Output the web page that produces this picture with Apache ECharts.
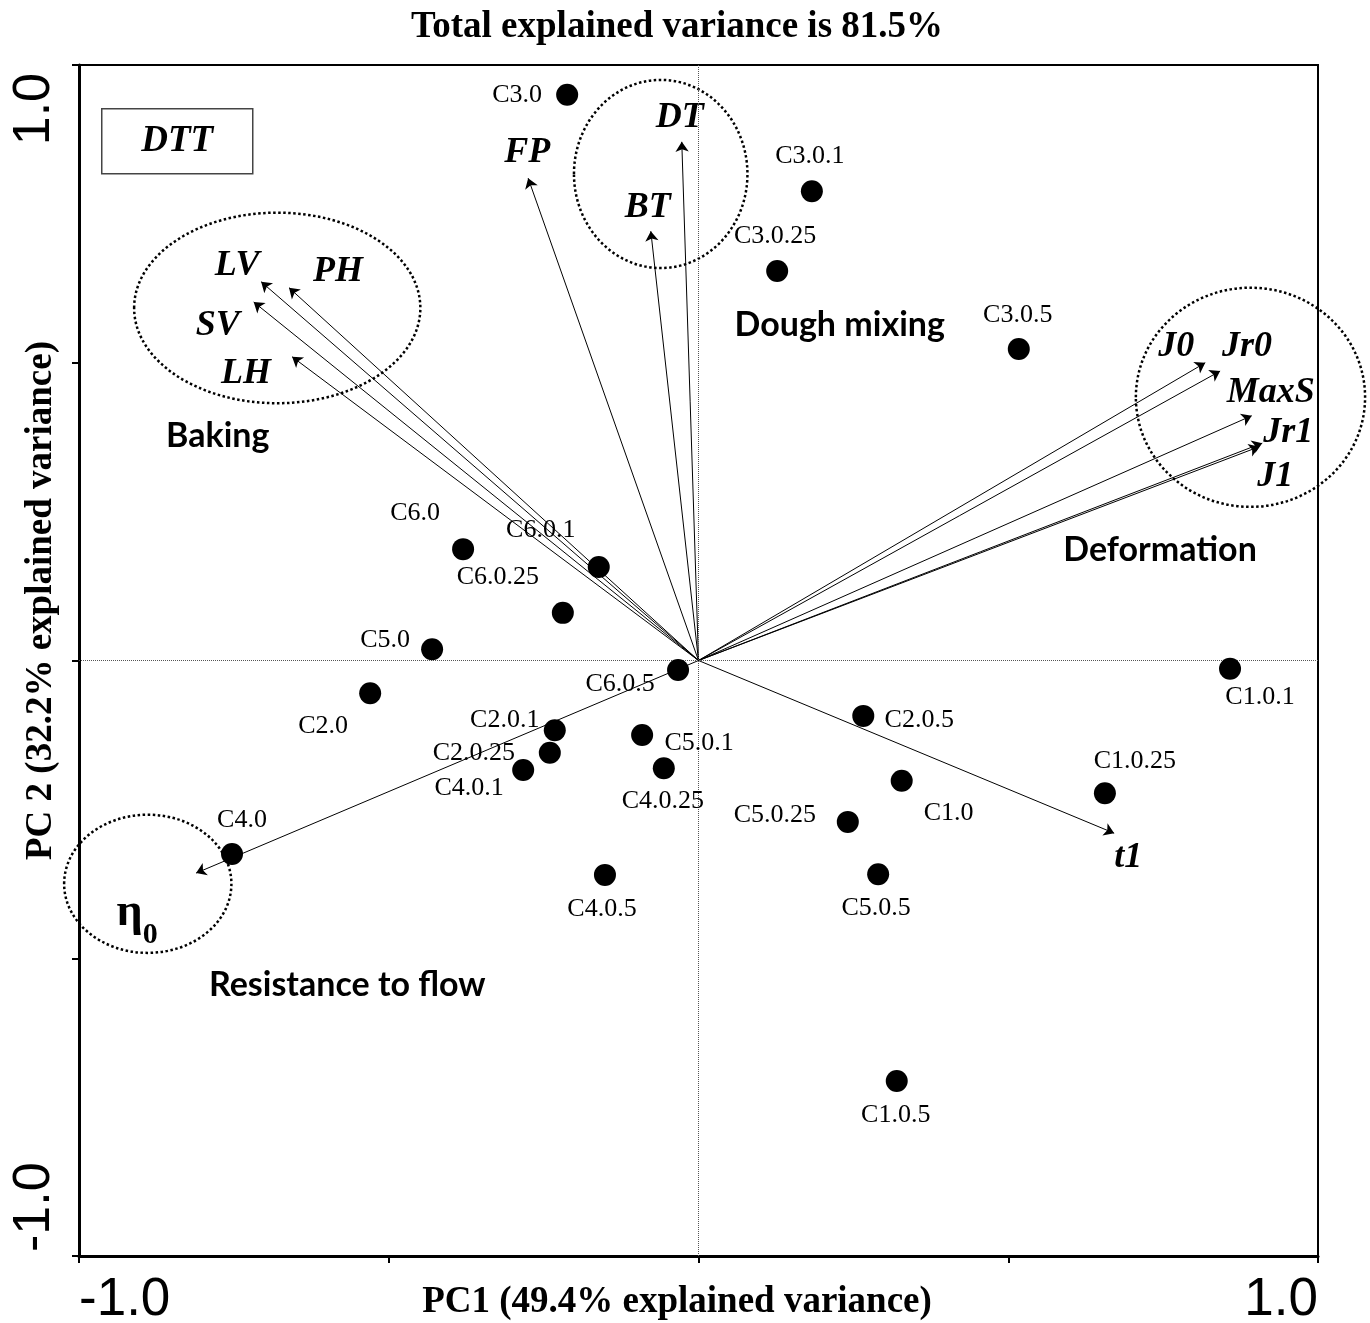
<!DOCTYPE html>
<html>
<head>
<meta charset="utf-8">
<script src="https://cdn.jsdelivr.net/npm/echarts@6/dist/echarts.min.js"></script>
<style>
html, body { margin: 0; padding: 0; background: #fff; }
#chart { width: 1370px; height: 1323px; }
</style>
</head>
<body>
<div id="chart"></div>
<script>
// ---------------- DATA ----------------
const titleText = 'Total explained variance is 81.5%';
const xAxisName = 'PC1 (49.4% explained variance)';
const yAxisName = 'PC 2 (32.2% explained variance)';
const axisMin = -1, axisMax = 1, axisStep = 0.5;
const minTickLabel = '-1.0';
const maxTickLabel = '1.0';
const boxLabel = 'DTT';

// sample scores
const pointNames = ['C3.0','C3.0.1','C3.0.25','C3.0.5','C6.0','C6.0.1','C6.0.25','C5.0','C6.0.5','C2.0','C2.0.1','C2.0.25','C4.0.1','C5.0.1','C4.0.25','C4.0','C4.0.5','C2.0.5','C1.0','C5.0.25','C5.0.5','C1.0.1','C1.0.25','C1.0.5'];
const pointPC1 = [-0.212, 0.183, 0.127, 0.517, -0.380, -0.161, -0.219, -0.430, -0.033, -0.530, -0.232, -0.240, -0.283, -0.091, -0.056, -0.753, -0.151, 0.266, 0.328, 0.241, 0.290, 0.858, 0.656, 0.320];
const pointPC2 = [0.950, 0.788, 0.654, 0.523, 0.187, 0.157, 0.080, 0.019, -0.016, -0.055, -0.117, -0.155, -0.184, -0.125, -0.181, -0.325, -0.360, -0.093, -0.202, -0.271, -0.359, -0.014, -0.223, -0.706];

// variable loadings (arrows)
const loadingNames = ['DT','BT','FP','LV','PH','SV','LH','J0','Jr0','MaxS','Jr1','J1','t1','η0'];
const loadingPC1 = [-0.027, -0.077, -0.275, -0.706, -0.661, -0.718, -0.656, 0.818, 0.842, 0.893, 0.910, 0.905, 0.671, -0.811];
const loadingPC2 = [0.871, 0.721, 0.810, 0.636, 0.626, 0.602, 0.510, 0.500, 0.486, 0.411, 0.365, 0.359, -0.290, -0.357];

// group annotations (text + data position)
const groupNames = ['Baking', 'Dough mixing', 'Deformation', 'Resistance to flow'];
const groupPC1 = [-0.776, 0.228, 0.745, -0.567];
const groupPC2 = [0.377, 0.563, 0.186, -0.545];

// dotted group ellipses: centre and radii in data units
const ellipseCX = [-0.680, -0.061, 0.891, -0.889];
const ellipseCY = [0.592, 0.817, 0.442, -0.375];
const ellipseRX = [0.231, 0.140, 0.185, 0.135];
const ellipseRY = [0.160, 0.158, 0.184, 0.116];

// ---------------- STYLE (label offsets in px) ----------------
const pointLabelOffset = {
  'C3.0':[-50,0],'C3.0.1':[-2,-35],'C3.0.25':[-2,-35],'C3.0.5':[-1,-34],
  'C6.0':[-48,-36],'C6.0.1':[-58,-37],'C6.0.25':[-65,-36],'C5.0':[-47,-9],
  'C6.0.5':[-58,14],'C2.0':[-47,33],'C2.0.1':[-50,-10],'C2.0.25':[-76,0],
  'C4.0.1':[-54,18],'C5.0.1':[57,8],'C4.0.25':[-1,33],'C4.0':[10,-34],
  'C4.0.5':[-3,34],'C2.0.5':[56,4],'C1.0':[47,32],'C5.0.25':[-73,-7],
  'C5.0.5':[-2,34],'C1.0.1':[30,28],'C1.0.25':[30,-32],'C1.0.5':[-1,34]
};
const loadingLabelOffset = {
  'DT':[-2,-24],'BT':[-3,-23],'FP':[-1,-25],'LV':[-24,-16],'PH':[49,-16],
  'SV':[-36,24],'LH':[-46,17],'J0':[-29,-16],'Jr0':[27,-24],'MaxS':[19,-23],
  'Jr1':[26,-10],'J1':[16,30],'t1':[14,25],'η0':[-59,40]
};

const SERIF = '"Liberation Serif", "Times New Roman", serif';
const SANS = '"Liberation Sans", Arial, sans-serif';
const CAL = 'Lato, "Open Sans", sans-serif';

const pointData = pointNames.map((n, i) => ({
  name: n, value: [pointPC1[i], pointPC2[i]],
  label: { offset: pointLabelOffset[n] }
}));
const arrowData = loadingNames.map((n, i) => ({
  name: n, coords: [[0, 0], [loadingPC1[i], loadingPC2[i]]]
}));
const arrowLabelData = loadingNames.map((n, i) => ({
  name: n, value: [loadingPC1[i], loadingPC2[i]],
  label: { offset: loadingLabelOffset[n] }
}));
const groupData = groupNames.map((n, i) => ({ name: n, value: [groupPC1[i], groupPC2[i]] }));
const ellipseData = ellipseCX.map((c, i) => [c, ellipseCY[i], ellipseRX[i], ellipseRY[i]]);

const baseX = {
  type: 'value', min: axisMin, max: axisMax, interval: axisStep, position: 'bottom',
  splitLine: { show: false }
};
const baseY = {
  type: 'value', min: axisMin, max: axisMax, interval: axisStep, position: 'left',
  splitLine: { show: false }
};
const plainLabel = { textBorderWidth: 0, textBorderColor: 'transparent', textShadowBlur: 0, opacity: 1 };

const option = {
  backgroundColor: '#ffffff',
  animation: false,
  title: {
    text: titleText, left: 672, top: 4, textAlign: 'center',
    textStyle: { fontFamily: SERIF, fontWeight: 'bold', fontSize: 37, color: '#000' }
  },
  grid: {
    left: 79, right: 52, top: 65, bottom: 67,
    show: true, borderColor: '#000', borderWidth: 2, backgroundColor: 'transparent',
    containLabel: false, outerBoundsMode: 'none'
  },
  xAxis: [
    Object.assign({}, baseX, {
      axisLine: { show: true, onZero: false, lineStyle: { color: '#000', width: 3 } },
      axisTick: { show: true, length: 7, lineStyle: { color: '#000', width: 2 } },
      axisLabel: {
        show: true, formatter: v => (v === axisMin ? minTickLabel : ''),
        align: 'left', margin: 18, fontFamily: SANS, fontSize: 53, color: '#000'
      },
      name: xAxisName, nameLocation: 'middle', nameGap: 28, nameMoveOverlap: false,
      nameTextStyle: { fontFamily: SERIF, fontWeight: 'bold', fontSize: 37, color: '#000', padding: [0, 43, 0, 0] }
    }),
    Object.assign({}, baseX, {
      axisLine: { show: false }, axisTick: { show: false },
      axisLabel: {
        show: true, formatter: v => (v === axisMax ? maxTickLabel : ''),
        align: 'right', margin: 18, fontFamily: SANS, fontSize: 53, color: '#000'
      }
    })
  ],
  yAxis: [
    Object.assign({}, baseY, {
      axisLine: { show: true, onZero: false, lineStyle: { color: '#000', width: 3 } },
      axisTick: { show: true, length: 7, lineStyle: { color: '#000', width: 2 } },
      axisLabel: {
        show: true, rotate: 90, formatter: v => (v === axisMin ? minTickLabel : ''),
        align: 'left', verticalAlign: 'bottom', padding: [0, 0, 0, 4],
        margin: 18, fontFamily: SANS, fontSize: 52, color: '#000'
      },
      name: yAxisName, nameLocation: 'middle', nameGap: 19, nameRotate: 90, nameMoveOverlap: false,
      nameTextStyle: { fontFamily: SERIF, fontWeight: 'bold', fontSize: 37, color: '#000', padding: [0, 0, 0, 120] }
    }),
    Object.assign({}, baseY, {
      axisLine: { show: false }, axisTick: { show: false },
      axisLabel: {
        show: true, rotate: 90, formatter: v => (v === axisMax ? maxTickLabel : ''),
        align: 'right', verticalAlign: 'bottom', padding: [0, 8, 0, 0],
        margin: 18, fontFamily: SANS, fontSize: 52, color: '#000'
      }
    })
  ],
  graphic: [{
    type: 'group', left: 101, top: 108, z: 50,
    children: [
      { type: 'rect', shape: { x: 0, y: 0, width: 151, height: 65 },
        style: { fill: '#fff', stroke: '#444', lineWidth: 1.5 } },
      { type: 'text', x: 75.5, y: 33,
        style: { text: boxLabel, fontFamily: SERIF, fontSize: 37, fontWeight: 'bold', fontStyle: 'italic',
                 fill: '#000', align: 'center', verticalAlign: 'middle' } }
    ]
  }],
  series: [
    {
      type: 'custom', name: 'groups', coordinateSystem: 'cartesian2d', clip: false, silent: true, z: 2,
      data: ellipseData,
      encode: { x: 0, y: 1 },
      renderItem: function (params, api) {
        const c = api.coord([api.value(0), api.value(1)]);
        const s = api.size([api.value(2), api.value(3)]);
        return {
          type: 'ellipse',
          shape: { cx: c[0], cy: c[1], rx: s[0], ry: s[1] },
          style: { fill: 'none', stroke: '#000', lineWidth: 2.5, lineDash: [2.5, 2.5] }
        };
      }
    },
    {
      type: 'lines', name: 'loadings', coordinateSystem: 'cartesian2d', z: 3, silent: true,
      symbol: ['none', 'arrow'], symbolSize: 10,
      lineStyle: { color: '#000', width: 1, opacity: 1, curveness: 0 },
      data: arrowData
    },
    {
      type: 'scatter', name: 'loadingLabels', z: 4, silent: true,
      symbol: 'circle', symbolSize: 1, itemStyle: { color: 'rgba(255,255,255,0)' },
      data: arrowLabelData,
      label: Object.assign({}, plainLabel, {
        show: true, position: 'inside', align: 'center', verticalAlign: 'middle',
        fontFamily: SERIF, fontSize: 36, fontWeight: 'bold', fontStyle: 'italic', color: '#000',
        formatter: p => (p.name === 'η0' ? '{eta|η}{sub|0}' : p.name),
        rich: {
          eta: { fontFamily: SERIF, fontSize: 46, fontWeight: 'bold', fontStyle: 'normal', color: '#000', lineHeight: 46, verticalAlign: 'top', textBorderWidth: 0 },
          sub: { fontFamily: SERIF, fontSize: 30, fontWeight: 'bold', fontStyle: 'normal', color: '#000', lineHeight: 30, verticalAlign: 'top', padding: [30, 0, 0, 0], textBorderWidth: 0 }
        }
      })
    },
    {
      type: 'scatter', name: 'groupLabels', z: 4, silent: true,
      symbol: 'circle', symbolSize: 1, itemStyle: { color: 'rgba(255,255,255,0)' },
      data: groupData,
      label: Object.assign({}, plainLabel, {
        show: true, position: 'inside', align: 'center', verticalAlign: 'middle',
        fontFamily: CAL, fontSize: 34, fontWeight: 'bold', color: '#000',
        formatter: p => p.name
      })
    },
    {
      type: 'scatter', name: 'samples', z: 5, silent: true,
      symbol: 'circle', symbolSize: 22, itemStyle: { color: '#000', opacity: 1 },
      data: pointData,
      label: Object.assign({}, plainLabel, {
        show: true, position: 'inside', align: 'center', verticalAlign: 'middle',
        fontFamily: SERIF, fontSize: 26, color: '#000',
        formatter: p => p.name
      }),
      markLine: {
        silent: true, symbol: ['none', 'none'], label: { show: false },
        lineStyle: { type: 'dotted', width: 1, color: '#555' },
        data: [{ xAxis: 0 }, { yAxis: 0 }]
      }
    }
  ]
};

const chart = echarts.init(document.getElementById('chart'), null, { renderer: 'canvas' });
chart.setOption(option);
</script>
</body>
</html>
